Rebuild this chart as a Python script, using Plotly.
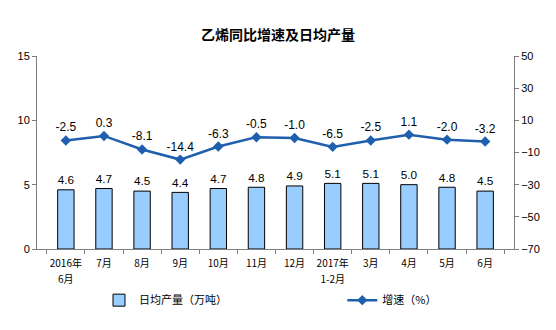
import plotly.graph_objects as go

months = ["2016年<br>6月", "7月", "8月", "9月", "10月", "11月", "12月",
          "2017年<br>1-2月", "3月", "4月", "5月", "6月"]
daily_output = [4.6, 4.7, 4.5, 4.4, 4.7, 4.8, 4.9, 5.1, 5.1, 5.0, 4.8, 4.5]
growth_rate = [-2.5, 0.3, -8.1, -14.4, -6.3, -0.5, -1.0, -6.5, -2.5, 1.1, -2.0, -3.2]

cjk = "Noto Sans CJK SC"

# smaller glyphs inside a larger tick font give wider spacing between the two label lines
tick_labels = ["<br>".join(f'<span style="font-size:10px">{part}</span>'
                           for part in m.split("<br>")) for m in months]

fig = go.Figure()
fig.add_trace(go.Bar(
    x=months, y=daily_output, name="日均产量（万吨）",
    marker=dict(color="#99CCFF", line=dict(color="#000000", width=1)),
    text=[f"{v:.1f}" for v in daily_output], textposition="outside",
    textfont=dict(family="Arial", size=13, color="#000"),
    cliponaxis=False, legend="legend",
))
fig.add_trace(go.Scatter(
    x=months, y=growth_rate, name="增速（%）", yaxis="y2",
    mode="lines+markers+text",
    line=dict(color="#1F5FAD", width=2.5),
    marker=dict(symbol="diamond", size=8, color="#1F5FAD"),
    text=[f"{v:.1f}" for v in growth_rate], textposition="top center",
    textfont=dict(family="Arial", size=12, color="#000"),
    cliponaxis=False, legend="legend2",
))

legend_font = dict(family=cjk, size=11, color="#000")
fig.update_layout(
    width=556, height=330,
    margin=dict(l=37, r=42, t=56, b=81),
    paper_bgcolor="white", plot_bgcolor="white",
    title=dict(text="<b>乙烯同比增速及日均产量</b>", x=0.5, xanchor="center",
               y=0.895, yanchor="middle",
               font=dict(family=cjk, size=14, color="#000")),
    bargap=0.57,
    showlegend=True,
    legend=dict(x=0.13, xanchor="left", y=-0.265, yanchor="middle",
                font=legend_font, bgcolor="rgba(0,0,0,0)"),
    legend2=dict(x=0.64, xanchor="left", y=-0.265, yanchor="middle",
                 font=legend_font, bgcolor="rgba(0,0,0,0)"),
    xaxis=dict(
        showline=True, linecolor="#808080", linewidth=1,
        ticks="outside", tickcolor="#808080", ticklen=4,
        tickson="boundaries", tickangle=0,
        tickmode="array", tickvals=months, ticktext=tick_labels,
        ticklabelstandoff=3,
        tickfont=dict(family=cjk, size=12, color="#000"),
    ),
    yaxis=dict(
        range=[0, 15], tickvals=[0, 5, 10, 15],
        showgrid=False, zeroline=False,
        showline=True, linecolor="#808080", linewidth=1,
        ticks="outside", tickcolor="#808080", ticklen=4,
        tickfont=dict(family="Arial", size=11, color="#000"),
    ),
    yaxis2=dict(
        range=[-70, 50], tickvals=[-70, -50, -30, -10, 10, 30, 50],
        overlaying="y", side="right",
        showgrid=False, zeroline=False,
        showline=True, linecolor="#808080", linewidth=1,
        ticks="outside", tickcolor="#808080", ticklen=4,
        tickfont=dict(family="Arial", size=11, color="#000"),
    ),
)

fig.write_html("out.html")
